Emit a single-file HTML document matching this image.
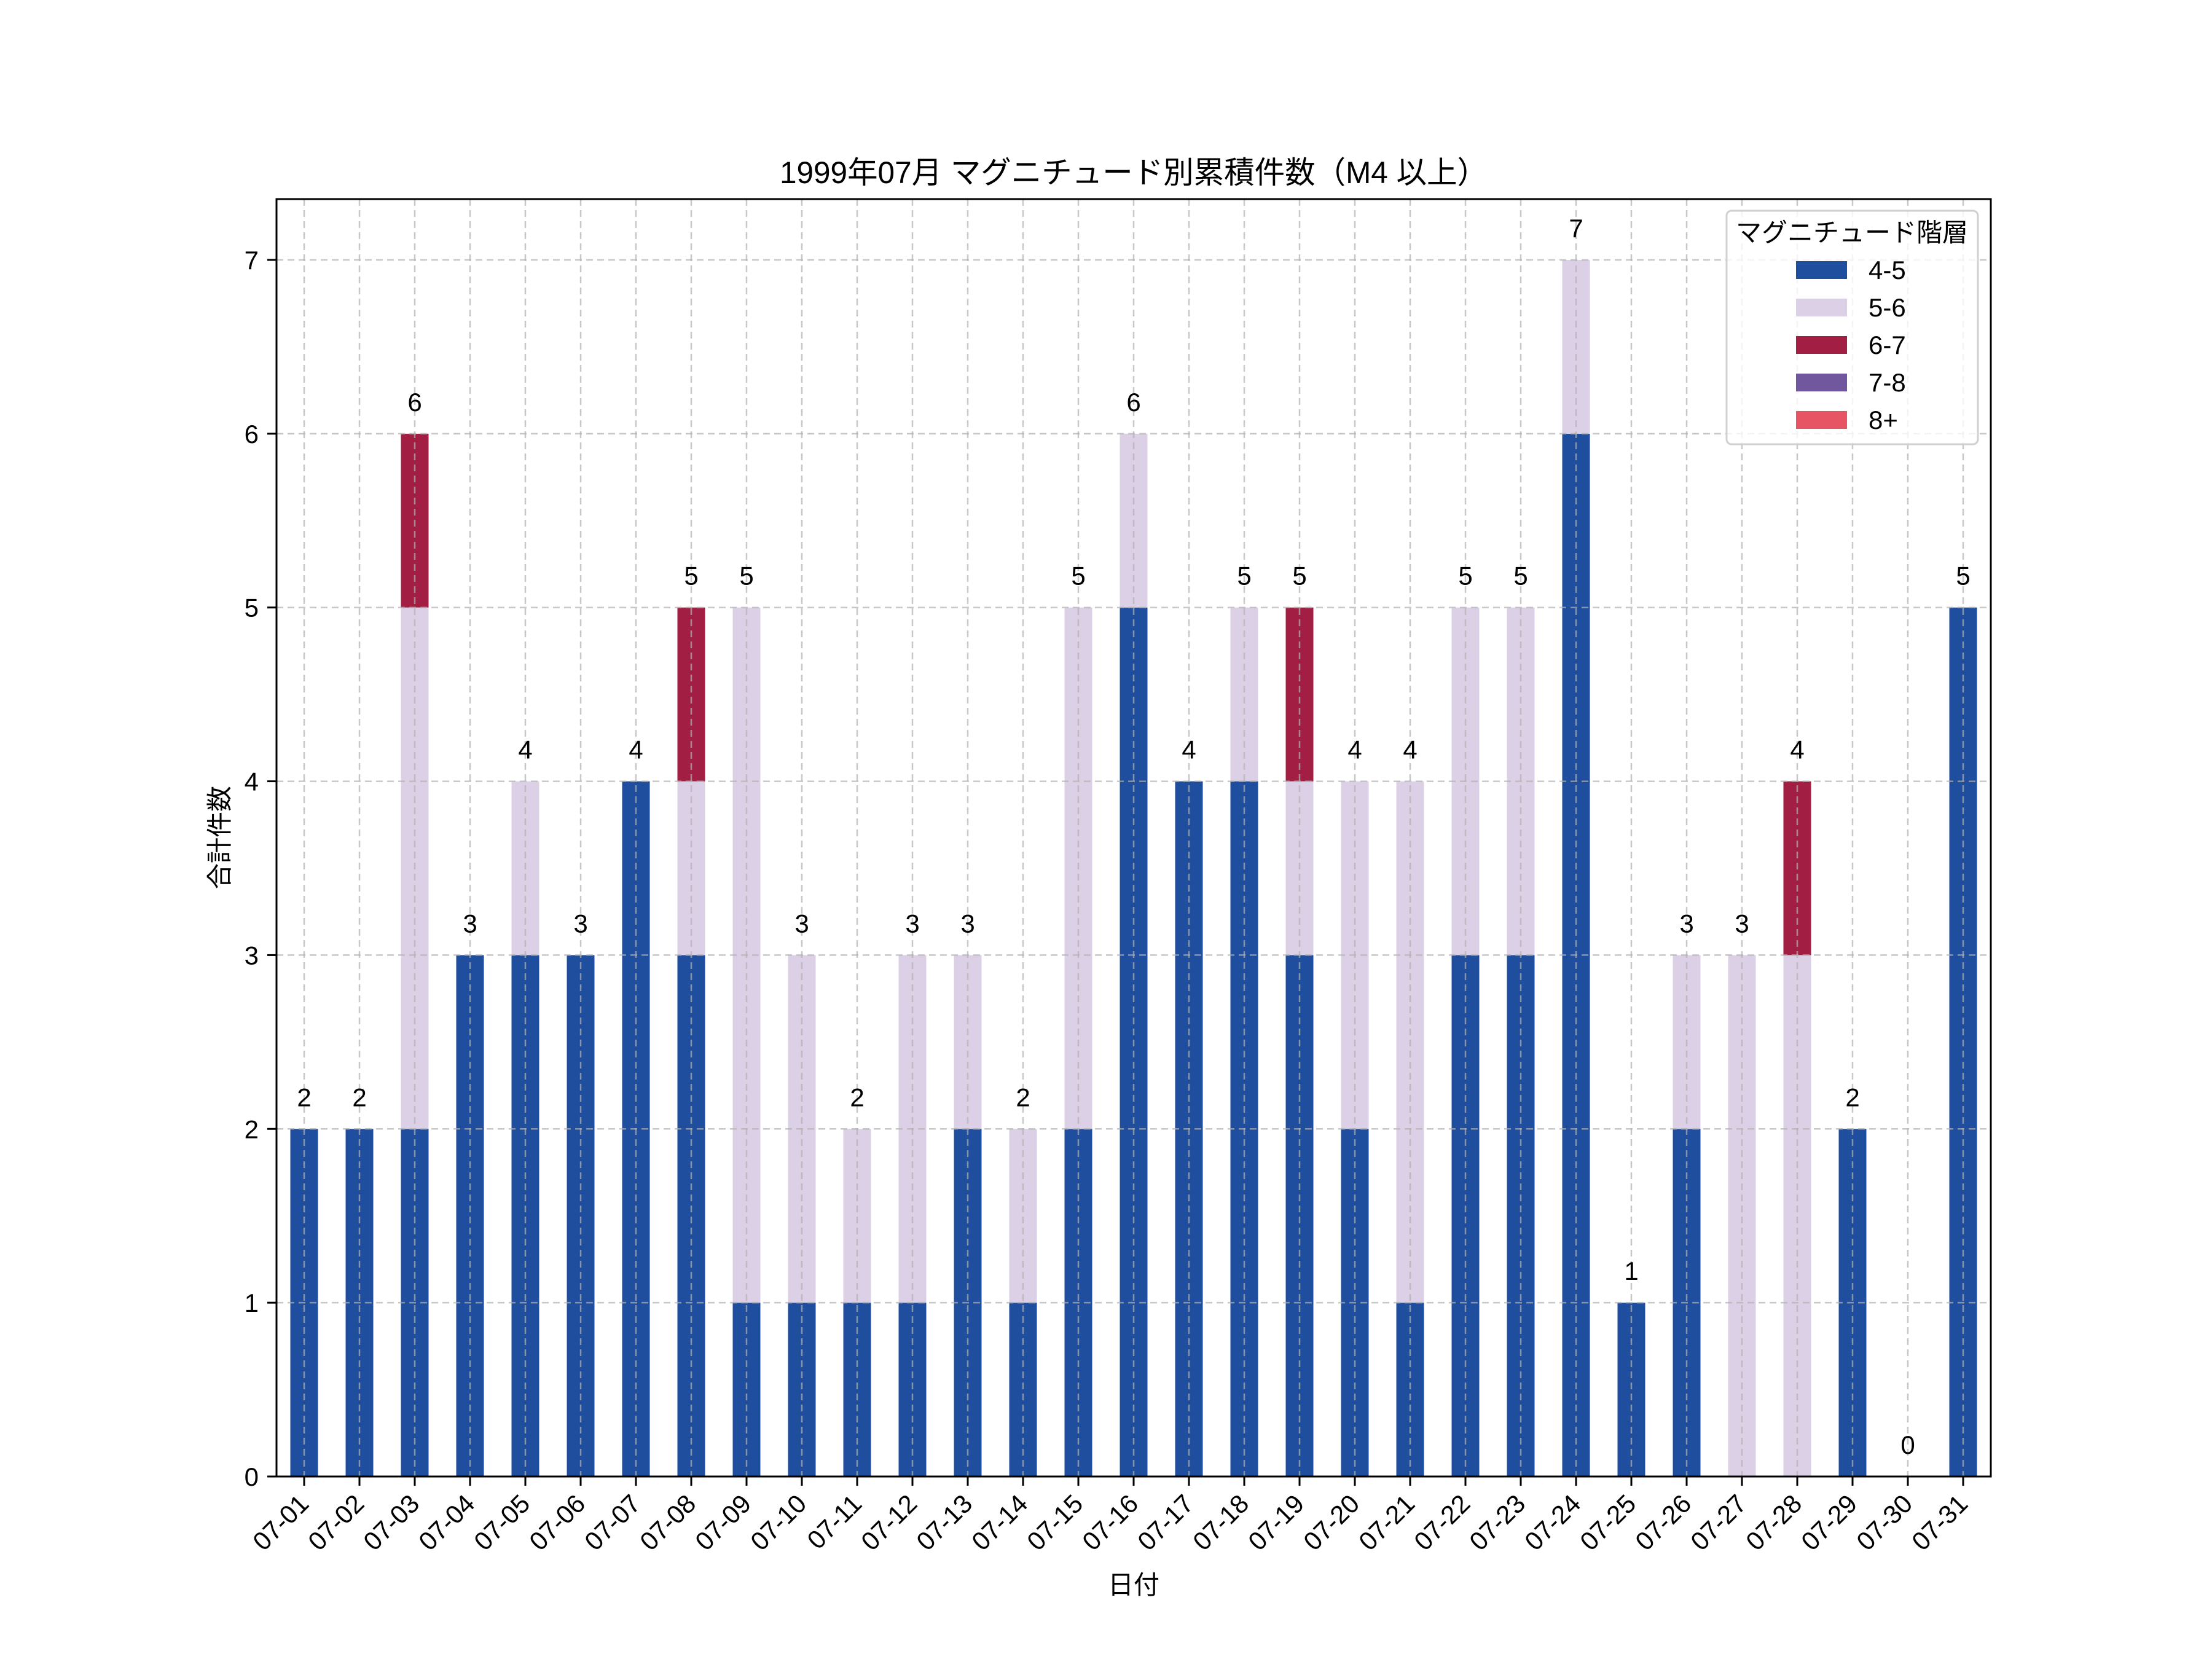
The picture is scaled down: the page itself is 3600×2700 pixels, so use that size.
<!DOCTYPE html>
<html><head><meta charset="utf-8"><style>html,body{margin:0;padding:0;background:#fff}svg{display:block}</style></head>
<body>
<svg id="s" width="3600" height="2700" viewBox="0 0 3600 2700" xmlns="http://www.w3.org/2000/svg" font-family="'Liberation Sans','Noto Sans CJK JP',sans-serif">
<rect width="3600" height="2700" fill="#fff"/>
<g id="bars"></g>
<g id="grid" stroke="#b0b0b0" stroke-opacity="0.7" stroke-width="2.5" stroke-dasharray="11 7" fill="none"></g>
<rect x="450" y="324" width="2790" height="2079" fill="none" stroke="#000" stroke-width="3"/>
<g id="ticks" stroke="#000" stroke-width="3"></g>
<g id="labels" font-size="42" fill="#000"></g>
<text x="1845" y="298" font-size="50" text-anchor="middle" textLength="1152" lengthAdjust="spacingAndGlyphs">1999年07月 マグニチュード別累積件数（M4 以上）</text>
<text x="1845" y="2622" font-size="42" text-anchor="middle" transform="translate(0,-28)">日付</text>
<text transform="translate(372,1363) rotate(-90)" font-size="42" text-anchor="middle">合計件数</text>
<g>
<rect x="2810" y="343" width="409" height="380" rx="8" fill="#fff" fill-opacity="0.8" stroke="#d0d0d0" stroke-width="3"/>
<text x="3014" y="393" font-size="42" text-anchor="middle">マグニチュード階層</text>
<rect x="2923" y="425" width="83" height="29" fill="#1f4e9f"/>
<rect x="2923" y="486" width="83" height="29" fill="#dcd0e6"/>
<rect x="2923" y="547" width="83" height="29" fill="#a21f43"/>
<rect x="2923" y="608" width="83" height="29" fill="#70579e"/>
<rect x="2923" y="669" width="83" height="29" fill="#e75565"/>
<g font-size="42"><text x="3041" y="454">4-5</text><text x="3041" y="515">5-6</text><text x="3041" y="576">6-7</text><text x="3041" y="637">7-8</text><text x="3041" y="698">8+</text></g>
</g>
</svg>
<script>
const d=[[2,0,0],[2,0,0],[2,3,1],[3,0,0],[3,1,0],[3,0,0],[4,0,0],[3,1,1],[1,4,0],[1,2,0],[1,1,0],[1,2,0],[2,1,0],[1,1,0],[2,3,0],[5,1,0],[4,0,0],[4,1,0],[3,1,1],[2,2,0],[1,3,0],[3,2,0],[3,2,0],[6,1,0],[1,0,0],[2,1,0],[0,3,0],[0,3,1],[2,0,0],[0,0,0],[5,0,0]];
const col=["#1f4e9f","#dcd0e6","#a21f43"];
const Y=v=>2403-v*282.857;
let b="",g="",t="",l="";
d.forEach((r,i)=>{const cx=495+90*i;let acc=0;
r.forEach((v,k)=>{if(v>0){b+=`<rect x="${cx-22.5}" y="${Y(acc+v)}" width="45" height="${v*282.857}" fill="${col[k]}"/>`;}acc+=v;});
l+=`<text x="${cx}" y="${Y(acc)-37}" text-anchor="middle">${acc}</text>`;
g+=`<line x1="${cx}" y1="324" x2="${cx}" y2="2403"/>`;
t+=`<line x1="${cx}" y1="2403" x2="${cx}" y2="2418"/>`;
const lab="07-"+String(i+1).padStart(2,"0");
l+=`<text transform="translate(${cx+10},${2450}) rotate(-45)" text-anchor="end">${lab}</text>`;
});
for(let v=0;v<=7;v++){const y=Y(v);if(v>0)g+=`<line x1="450" y1="${y}" x2="3240" y2="${y}"/>`;t+=`<line x1="435" y1="${y}" x2="450" y2="${y}"/>`;l+=`<text x="421" y="${y+15}" text-anchor="end">${v}</text>`;}
document.getElementById("bars").innerHTML=b;document.getElementById("grid").innerHTML=g;document.getElementById("ticks").innerHTML=t;document.getElementById("labels").innerHTML=l;
</script>
</body></html>
